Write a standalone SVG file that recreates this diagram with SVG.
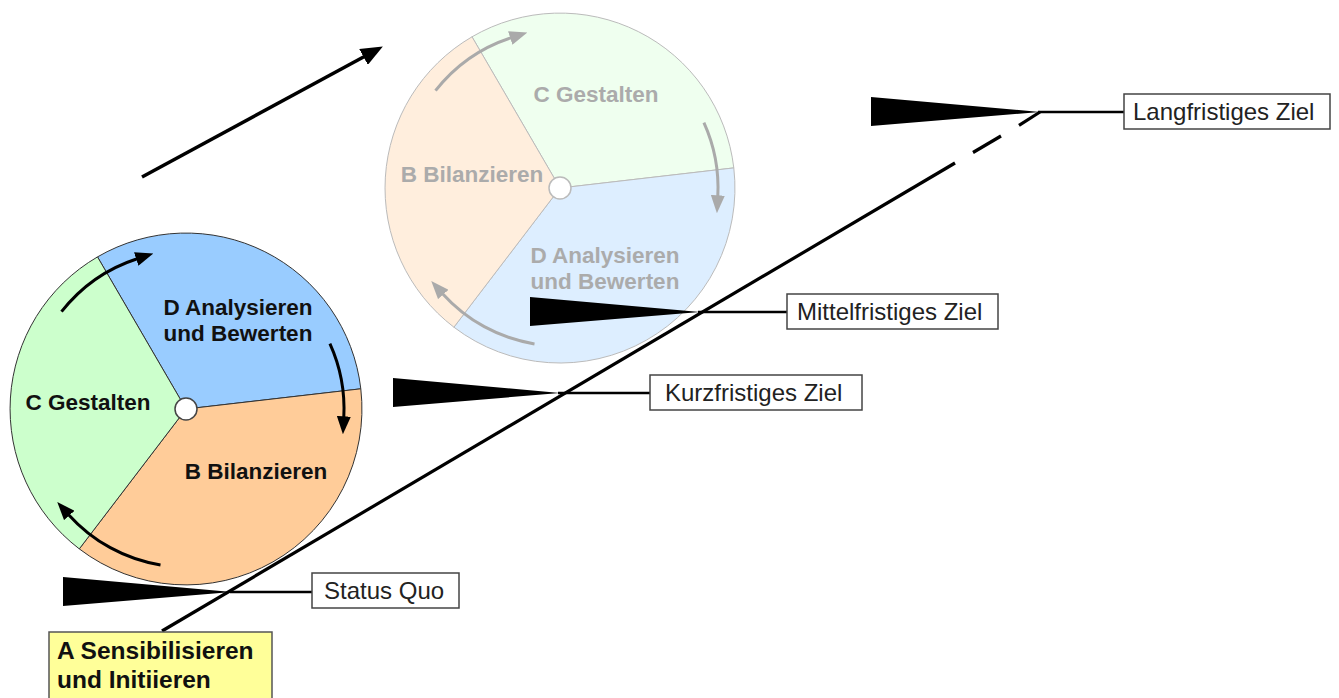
<svg xmlns="http://www.w3.org/2000/svg" width="1339" height="698" viewBox="0 0 1339 698">
  <style>
    .bold { font-family: "Liberation Sans", Arial, sans-serif; font-weight: bold; font-size: 22.5px; text-anchor: middle; }
    .dark { fill: #111111; }
    .faint { fill: #ABABAB; }
    .lbl { font-family: "Liberation Sans", Arial, sans-serif; font-size: 24px; fill: #222222; }
    .box { fill: #FFFFFF; stroke: #444444; stroke-width: 1.5; }
    .wedge { fill: #000000; }
    .lead { stroke: #000000; stroke-width: 2.5; fill: none; }
    .main { stroke: #000000; stroke-width: 3.2; fill: none; }
    .arc1 { stroke: #000000; stroke-width: 3; fill: none; marker-end: url(#headBlack); }
    .arc2 { stroke: #AAAAAA; stroke-width: 3; fill: none; marker-end: url(#headGray); }
    .sec1 { stroke: #333333; stroke-width: 1; }
    .sec2 { stroke: #BBBBBB; stroke-width: 1; }
  </style>
  <defs>
    <marker id="headBlack" markerUnits="userSpaceOnUse" markerWidth="18" markerHeight="14" viewBox="0 0 18 14" refX="1" refY="7" orient="auto">
      <path d="M0,0 L18,7 L0,14 Z" fill="#000000"/>
    </marker>
    <marker id="headGray" markerUnits="userSpaceOnUse" markerWidth="18" markerHeight="14" viewBox="0 0 18 14" refX="1" refY="7" orient="auto">
      <path d="M0,0 L18,7 L0,14 Z" fill="#AAAAAA"/>
    </marker>
    <marker id="headBig" markerUnits="userSpaceOnUse" markerWidth="22" markerHeight="18" viewBox="0 0 22 18" refX="1" refY="9" orient="auto">
      <path d="M0,0 L22,9 L0,18 Z" fill="#000000"/>
    </marker>
  </defs>

  <rect width="1339" height="698" fill="#FFFFFF"/>

  <!-- Status Quo wedge (under circle 1) -->
  <g id="wedge-status-quo">
    <polygon class="wedge" points="63,577 63,606 232,592"/>
  </g>

  <!-- Circle 2 (future cycle, faded) -->
  <g id="cycle-future">
    <path class="sec2" fill="#EFFFEF" d="M560,188 L472,36.8 A175,175 0 0 1 733.8,167.9 Z"/>
    <path class="sec2" fill="#DDEEFF" d="M560,188 L733.8,167.9 A175,175 0 0 1 453.9,327.2 Z"/>
    <path class="sec2" fill="#FFEEDD" d="M560,188 L453.9,327.2 A175,175 0 0 1 472,36.8 Z"/>
    <circle cx="560" cy="188" r="11" fill="#FFFFFF" stroke="#BBBBBB" stroke-width="1.5"/>
    <text class="bold faint" x="596" y="102">C Gestalten</text>
    <text class="bold faint" x="472" y="182">B Bilanzieren</text>
    <text class="bold faint" x="605" y="263">D Analysieren</text>
    <text class="bold faint" x="605" y="289">und Bewerten</text>
    <path class="arc2" d="M435.5,90.7 A158,158 0 0 1 511.2,37.7"/>
    <path class="arc2" d="M703.9,122.7 A158,158 0 0 1 717.8,196.3"/>
    <path class="arc2" d="M534.5,343.9 A158,158 0 0 1 442.6,293.7"/>
  </g>

  <!-- Circle 1 (current cycle) -->
  <g id="cycle-current">
    <path class="sec1" fill="#99CCFF" d="M186,409 L97.5,256.9 A176,176 0 0 1 360.8,388.8 Z"/>
    <path class="sec1" fill="#FFCC99" d="M186,409 L360.8,388.8 A176,176 0 0 1 79.3,548.9 Z"/>
    <path class="sec1" fill="#CCFFCC" d="M186,409 L79.3,548.9 A176,176 0 0 1 97.5,256.9 Z"/>
    <circle cx="186" cy="409" r="11" fill="#FFFFFF" stroke="#444444" stroke-width="1.5"/>
    <text class="bold dark" x="238" y="315">D Analysieren</text>
    <text class="bold dark" x="238" y="341">und Bewerten</text>
    <text class="bold dark" x="88" y="410">C Gestalten</text>
    <text class="bold dark" x="256" y="479">B Bilanzieren</text>
    <path class="arc1" d="M61.5,311.7 A158,158 0 0 1 137.2,258.7"/>
    <path class="arc1" d="M329.9,343.7 A158,158 0 0 1 343.8,417.3"/>
    <path class="arc1" d="M160.5,565 A158,158 0 0 1 68.6,514.7"/>
  </g>

  <!-- Goal wedges -->
  <g id="wedge-kurz"><polygon class="wedge" points="393,378 393,407 560,393"/></g>
  <g id="wedge-mittel"><polygon class="wedge" points="530,297 530,326 700,312"/></g>
  <g id="wedge-lang"><polygon class="wedge" points="871,97 871,126 1040,112"/></g>

  <!-- Connectors -->
  <g id="connectors">
    <line x1="142" y1="177" x2="364.4" y2="56.5" stroke="#000000" stroke-width="3.5" marker-end="url(#headBig)"/>
    <line class="main" x1="162" y1="631" x2="955" y2="163"/>
    <line class="main" x1="973" y1="152.5" x2="1001" y2="136"/>
    <line class="main" x1="1019" y1="125.3" x2="1040" y2="112"/>
    <line class="lead" x1="230" y1="592" x2="312" y2="592"/>
    <line class="lead" x1="558" y1="393" x2="650" y2="393"/>
    <line class="lead" x1="698" y1="312" x2="787" y2="312"/>
    <line class="lead" x1="1038" y1="112" x2="1124" y2="112"/>
  </g>

  <!-- Labels -->
  <g id="label-status-quo">
    <rect class="box" x="312" y="573" width="147" height="35"/>
    <text class="lbl" x="324" y="599">Status Quo</text>
  </g>
  <g id="label-kurz">
    <rect class="box" x="650" y="375" width="212" height="35"/>
    <text class="lbl" x="665" y="401">Kurzfristiges Ziel</text>
  </g>
  <g id="label-mittel">
    <rect class="box" x="787" y="294" width="211" height="35"/>
    <text class="lbl" x="797" y="320">Mittelfristiges Ziel</text>
  </g>
  <g id="label-lang">
    <rect class="box" x="1124" y="94" width="206" height="35"/>
    <text class="lbl" x="1133" y="120">Langfristiges Ziel</text>
  </g>

  <g id="node-a">
    <rect x="49" y="632" width="223" height="80" fill="#FFFF99" stroke="#555555" stroke-width="1.5"/>
    <text font-family="Liberation Sans, Arial, sans-serif" font-weight="bold" font-size="24.5" fill="#111111" x="57" y="659">A Sensibilisieren</text>
    <text font-family="Liberation Sans, Arial, sans-serif" font-weight="bold" font-size="24.5" fill="#111111" x="57" y="688">und Initiieren</text>
  </g>
</svg>
